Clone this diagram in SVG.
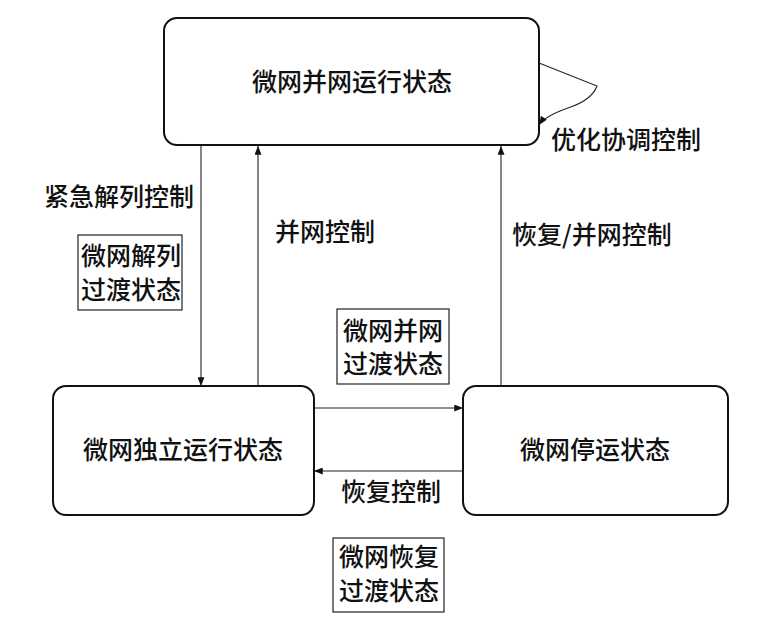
<svg xmlns="http://www.w3.org/2000/svg" width="777" height="622" viewBox="0 0 777 622">
<defs>
<style>
.node{fill:#fff;stroke:#111;stroke-width:2}
.lbox{fill:#fff;stroke:#222;stroke-width:1.2}
.t{font-family:"Noto Sans CJK SC","Noto Sans",sans-serif;font-size:25px;font-weight:500;fill:#111}
.c{text-anchor:middle}
.edge{fill:none;stroke:#222;stroke-width:1.1}
</style>
<marker id="arr" viewBox="0 0 10 8" refX="10" refY="4" markerWidth="9" markerHeight="7" markerUnits="userSpaceOnUse" orient="auto">
<path d="M0,0 L10,4 L0,8 Z" fill="#111"/>
</marker>
</defs>
<rect width="777" height="622" fill="#fff"/>
<g id="connectors">
<line class="edge" x1="201" y1="146" x2="201" y2="386" marker-end="url(#arr)"/>
<line class="edge" x1="258" y1="386" x2="258" y2="146" marker-end="url(#arr)"/>
<line class="edge" x1="501" y1="386" x2="501" y2="146" marker-end="url(#arr)"/>
<line class="edge" x1="314" y1="408" x2="463" y2="408" marker-end="url(#arr)"/>
<line class="edge" x1="463" y1="471" x2="314" y2="471" marker-end="url(#arr)"/>
<path class="edge" d="M539,63 L597,86 Q592,100 568,108 Q545,116 539,125" marker-end="url(#arr)"/>
</g>
<g id="node-grid">
<rect class="node" x="164" y="18" width="375" height="127" rx="13"/>
<text class="t c" x="352" y="91">微网并网运行状态</text>
</g>
<g id="node-island">
<rect class="node" x="53" y="386" width="261" height="129" rx="13"/>
<text class="t c" x="183" y="459">微网独立运行状态</text>
</g>
<g id="node-stop">
<rect class="node" x="463" y="386" width="265" height="129" rx="13"/>
<text class="t c" x="595" y="459">微网停运状态</text>
</g>
<g id="label-opt">
<text class="t" x="551" y="149">优化协调控制</text>
</g>
<g id="label-emergency">
<text class="t" x="44" y="206">紧急解列控制</text>
</g>
<g id="label-gridctl">
<text class="t" x="275" y="241">并网控制</text>
</g>
<g id="label-recover-grid">
<text class="t" x="512" y="244">恢复/并网控制</text>
</g>
<g id="label-recover">
<text class="t c" x="391" y="501">恢复控制</text>
</g>
<g id="state-separate">
<rect class="lbox" x="78" y="235" width="104" height="75"/>
<text class="t c" x="131" y="265">微网解列</text>
<text class="t c" x="131" y="299">过渡状态</text>
</g>
<g id="state-connect">
<rect class="lbox" x="337" y="309" width="112" height="75"/>
<text class="t c" x="393" y="340">微网并网</text>
<text class="t c" x="393" y="373">过渡状态</text>
</g>
<g id="state-recover">
<rect class="lbox" x="333" y="538" width="111" height="74"/>
<text class="t c" x="389" y="566">微网恢复</text>
<text class="t c" x="389" y="600">过渡状态</text>
</g>
</svg>
